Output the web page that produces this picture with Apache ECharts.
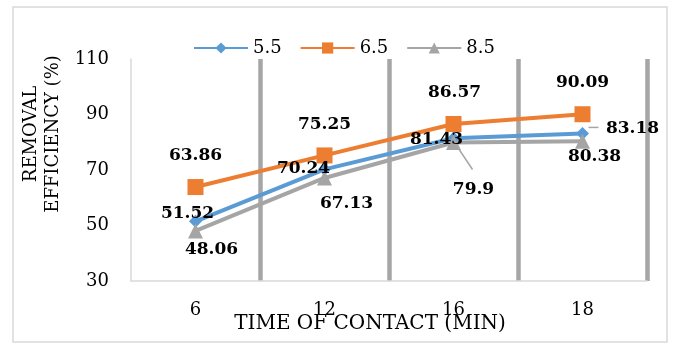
<!DOCTYPE html>
<html>
<head>
<meta charset="utf-8">
<style>
  html, body { margin: 0; padding: 0; background: #ffffff; }
  #chart { width: 673px; height: 345px; }
</style>
<script src="https://cdn.jsdelivr.net/npm/echarts@6/dist/echarts.min.js"></script>
</head>
<body>
<div id="chart"></div>
<script>
// Contact time (min) on the category axis
const categories = ['6', '12', '16', '18'];
// Removal efficiency (%) for each series
const eff55 = [51.52, 70.24, 81.43, 83.18];
const eff65 = [63.86, 75.25, 86.57, 90.09];
const eff85 = [48.06, 67.13, 79.9, 80.38];
const seriesNames = ['5.5', '6.5', '8.5'];
const yTicks = { min: 30, max: 110, step: 20 };

// Label placement (pixel offsets from each marker centre)
const offsets55 = [[-8, -8], [-21, -1], [-17, 1], [50, -5]];
const offsets65 = [[0, -31], [0, -31], [1, -31], [0, -32]];
const offsets85 = [[16, 19], [22, 26], [20, 47], [12, 15]];

// Leader lines for the two labels that sit away from their markers:
// [series values, category index, start offset, end offset]
const leaders = [
  [eff85, 2, [5, 6], [19, 27]],
  [eff55, 3, [6, -6], [16, -6]]
];

const FONT = 'DejaVu Serif';
const BLUE = '#5b9bd5', ORANGE = '#ed7d31', GRAY = '#a5a5a5';

function buildData(values, offsets) {
  return values.map((v, i) => ({ value: v, label: { offset: offsets[i] } }));
}

function makeSeries(name, values, color, symbol, size, offsets) {
  return {
    name: name,
    type: 'line',
    z: 3,
    data: buildData(values, offsets),
    symbol: symbol,
    symbolSize: size,
    showAllSymbol: true,
    lineStyle: { color: color, width: 4 },
    itemStyle: { color: color },
    label: {
      show: true,
      position: 'inside',
      fontFamily: FONT,
      fontWeight: 'bold',
      fontSize: 17,
      color: '#000'
    },
    emphasis: { disabled: true },
    animation: false
  };
}

const chart = echarts.init(document.getElementById('chart'), null, { renderer: 'canvas' });

chart.setOption({
  backgroundColor: '#ffffff',
  animation: false,
  textStyle: { fontFamily: FONT },
  grid: { left: 131, right: 26, top: 59, bottom: 64, containLabel: false },
  legend: {
    left: 188,
    top: 34,
    itemWidth: 54,
    itemHeight: 14,
    itemGap: 18,
    textStyle: { fontFamily: FONT, fontSize: 18, color: '#000' },
    data: seriesNames
  },
  xAxis: {
    type: 'category',
    data: categories,
    boundaryGap: true,
    axisLine: { show: true, lineStyle: { color: '#d9d9d9', width: 1.5 } },
    axisTick: { show: false },
    axisLabel: { fontFamily: FONT, fontSize: 18, color: '#000', margin: 20 },
    splitLine: {
      show: true,
      lineStyle: { color: ['rgba(0,0,0,0)', '#a6a6a6', '#a6a6a6', '#a6a6a6', '#a6a6a6'], width: 4.5 }
    }
  },
  yAxis: {
    type: 'value',
    min: yTicks.min,
    max: yTicks.max,
    interval: yTicks.step,
    axisLine: { show: true, lineStyle: { color: '#d9d9d9', width: 1.5 } },
    axisTick: { show: false },
    splitLine: { show: false },
    axisLabel: { fontFamily: FONT, fontSize: 18, color: '#000', margin: 22 }
  },
  graphic: [
    {
      type: 'rect',
      shape: { x: 13, y: 7, width: 654, height: 335 },
      style: { fill: 'none', stroke: '#d9d9d9', lineWidth: 1.5 },
      silent: true
    },
    {
      type: 'text',
      x: 42, y: 134,
      rotation: Math.PI / 2,
      style: {
        text: 'REMOVAL\nEFFICIENCY (%)',
        fontFamily: FONT, fontSize: 18, lineHeight: 22,
        fill: '#000', align: 'center', verticalAlign: 'middle'
      },
      silent: true
    },
    {
      type: 'text',
      x: 370, y: 324,
      style: {
        text: 'TIME OF CONTACT (MIN)',
        fontFamily: FONT, fontSize: 20,
        fill: '#000', align: 'center', verticalAlign: 'middle'
      },
      silent: true
    }
  ],
  series: [
    makeSeries(seriesNames[0], eff55, BLUE, 'diamond', 13, offsets55),
    makeSeries(seriesNames[1], eff65, ORANGE, 'rect', 16, offsets65),
    makeSeries(seriesNames[2], eff85, GRAY, 'triangle', 15, offsets85),
    {
      // short gray connectors between a marker and its displaced label
      type: 'custom',
      z: 2,
      silent: true,
      data: leaders.map(l => [l[1], l[0][l[1]], l[2][0], l[2][1], l[3][0], l[3][1]]),
      renderItem: function (params, api) {
        const p = api.coord([api.value(0), api.value(1)]);
        return {
          type: 'line',
          shape: {
            x1: p[0] + api.value(2), y1: p[1] + api.value(3),
            x2: p[0] + api.value(4), y2: p[1] + api.value(5)
          },
          style: { stroke: '#a6a6a6', lineWidth: 1.5 }
        };
      },
      animation: false
    }
  ]
});
</script>
</body>
</html>
